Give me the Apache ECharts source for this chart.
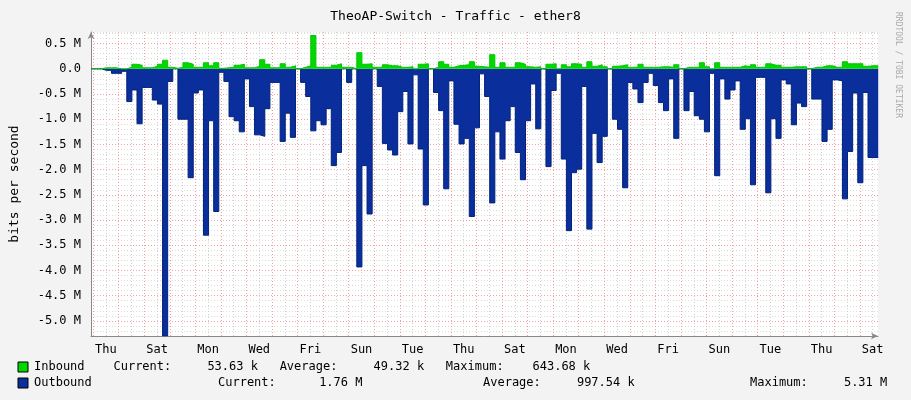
<!DOCTYPE html>
<html><head><meta charset="utf-8">
<script src="https://cdn.jsdelivr.net/npm/echarts@6/dist/echarts.min.js"></script>
<style>html,body{margin:0;padding:0;background:#F3F3F3}#c{width:911px;height:400px}</style>
</head><body><div id="c"></div>
<script>
// hours per consolidated step, starting at Wed 22:00 (x=0)
const stepHours = 4.8;
const dayNames = ['Thu','Fri','Sat','Sun','Mon','Tue','Wed'];
const inbound = [0,0,0,0.02,0.02,0.02,0,0,0.03,0.09,0.07,0.02,0.02,0.05,0.09,0.17,0.03,0.01,0.03,0.12,0.09,0.03,0.03,0.12,0.06,0.12,0.01,0.02,0.03,0.07,0.09,0.02,0.02,0.05,0.18,0.09,0.02,0.02,
 0.1,0.03,0.06,0,0.03,0.06,0.66,0.03,0.03,0.03,0.07,0.1,0.03,0.03,0,0.32,0.09,0.1,0.03,0.03,0.08,0.06,0.06,0.03,0.03,0.04,0,0.09,0.1,0,0.03,0.14,0.09,0.03,0.06,0.07,0.08,0.14,0.05,
 0.04,0.03,0.28,0.03,0.12,0.03,0.03,0.12,0.09,0.04,0.03,0.04,0,0.09,0.1,0,0.08,0.04,0.1,0.09,0.03,0.14,0.05,0.08,0.04,0,0.05,0.06,0.08,0.03,0.03,0.09,0.03,0.03,0.03,0.04,0.04,0.03,
 0.08,0,0.03,0.03,0.03,0.12,0.04,0,0.12,0.03,0.03,0.03,0.03,0.06,0.04,0.08,0.03,0.03,0.1,0.07,0.07,0.03,0.03,0.04,0.04,0.04,0,0.03,0.03,0.06,0.06,0.03,0.03,0.14,0.1,0.1,0.1,0.05,0.06];
const outbound = [0,0,0,-0.03,-0.03,-0.09,-0.09,-0.05,-0.65,-0.42,-1.09,-0.37,-0.37,-0.62,-0.70,-5.3,-0.25,0,-1.0,-1.0,-2.16,-0.48,-0.42,-3.3,-1.03,-2.83,-0.07,-0.25,-0.95,-1.03,-1.25,-0.2,-0.75,-1.31,-1.34,-0.79,-0.27,-0.27,
 -1.44,-0.88,-1.36,0,-0.27,-0.55,-1.23,-1.03,-1.11,-0.79,-1.92,-1.66,0,-0.27,0,-3.93,-1.92,-2.88,0,-0.35,-1.48,-1.61,-1.71,-0.85,-0.45,-1.49,-0.12,-1.59,-2.7,0,-0.47,-0.83,-2.38,-0.24,-1.1,-1.49,-1.38,-2.93,-1.17,
 -0.1,-0.55,-2.66,-1.25,-1.79,-1.03,-0.75,-1.66,-2.2,-1.03,-0.3,-1.19,0,-1.94,-0.43,-0.09,-1.79,-3.21,-2.06,-1.99,-0.35,-3.18,-1.28,-1.86,-1.34,0,-1.0,-1.2,-2.36,-0.27,-0.4,-0.67,-0.27,-0.09,-0.33,-0.67,-0.83,-0.2,
 -1.38,0,-0.83,-0.45,-0.93,-1.0,-1.25,-0.09,-2.12,-0.2,-0.6,-0.42,-0.24,-1.2,-0.99,-2.3,-0.17,-0.17,-2.46,-0.99,-1.38,-0.22,-0.3,-1.11,-0.68,-0.75,0,-0.6,-0.6,-1.44,-1.2,-0.22,-0.24,-2.58,-1.64,-0.48,-2.26,-0.47,-1.76];
const yTicks = [0.5,0,-0.5,-1,-1.5,-2,-2.5,-3,-3.5,-4,-4.5,-5];

function pts(arr){const p=arr.map((v,i)=>[i*stepHours,v]);p.push([arr.length*stepHours,arr[arr.length-1]]);return p;}
const mono='DejaVu Sans Mono';
const chart=echarts.init(document.getElementById('c'));
const xColors=[];for(let i=0;i<12;i++)xColors.push(i===1?'#F5A0A0':(i===7?'#CFCFCF':'rgba(0,0,0,0)'));
const yColors=['#DDDDDD','#DDDDDD','#DDDDDD','#F5A0A0','#DDDDDD'];
chart.setOption({
 animation:false,
 backgroundColor:'#F3F3F3',
 title:{text:'TheoAP-Switch - Traffic - ether8',left:'center',top:5,textStyle:{fontFamily:mono,fontSize:13,fontWeight:'normal',color:'#000'}},
 grid:{left:84,right:33,top:32,bottom:64,backgroundColor:'#fff',show:true,borderWidth:0},
 xAxis:{type:'value',min:0,max:739,interval:2,
  axisLine:{onZero:false,lineStyle:{color:'#888'},symbol:['none','arrow'],symbolSize:[5,7]},
  axisTick:{show:false},
  splitLine:{show:true,lineStyle:{color:xColors,type:[1,2],width:1}},
  axisLabel:{interval:0,fontFamily:mono,fontSize:12,color:'#000',margin:8,showMinLabel:true,showMaxLabel:false,
   formatter:v=>{const h=v-2; if(((h%24)+24)%24!==12) return ''; const d=Math.floor(h/24); return d%2===0?dayNames[d%7]:'';}}},
 yAxis:{type:'value',min:-5.3,max:0.73,interval:0.1,
  name:'bits per second',nameLocation:'middle',nameGap:70,nameTextStyle:{fontFamily:mono,fontSize:13,color:'#000'},
  axisLine:{show:true,lineStyle:{color:'#888'},symbol:['none','arrow'],symbolSize:[5,7]},
  axisTick:{show:false},
  splitLine:{show:true,lineStyle:{color:yColors,type:[1,2],width:1}},
  axisLabel:{fontFamily:mono,fontSize:12,color:'#000',margin:10,
   formatter:v=>{const r=Math.round(v*10);if(r%5!==0||r>5)return '';const t=yTicks.find(x=>Math.round(x*10)===r);if(t===undefined)return '';return t===0?'0.0':t.toFixed(1)+' M';}}},
 series:[
  {type:'line',step:'start',data:pts(outbound),symbol:'none',lineStyle:{color:'#00237A',width:1},areaStyle:{color:'#0A2F9C',opacity:1},z:2},
  {type:'line',step:'start',data:pts(inbound),symbol:'none',lineStyle:{color:'#00C800',width:1},areaStyle:{color:'#00D800',opacity:1},z:3}
 ],
 graphic:[
  {type:'text',left:894,top:12,rotation:-Math.PI/2,style:{text:'RRDTOOL / TOBI OETIKER',font:'8px '+mono,fill:'#AAAAAA'}},
  {type:'rect',shape:{x:18,y:362,width:10,height:10},style:{fill:'#00D800',stroke:'#000',lineWidth:1}},
  {type:'rect',shape:{x:18,y:378,width:10,height:10},style:{fill:'#0A2F9C',stroke:'#000',lineWidth:1}},
  {type:'text',x:34,y:361,style:{text:'Inbound    Current:     53.63 k   Average:     49.32 k   Maximum:    643.68 k',font:'12px '+mono,fill:'#000'}},
  {type:'text',x:34,y:377,style:{text:'Outbound',font:'12px '+mono,fill:'#000'}},
  {type:'text',x:218,y:377,style:{text:'Current:      1.76 M',font:'12px '+mono,fill:'#000'}},
  {type:'text',x:483,y:377,style:{text:'Average:     997.54 k',font:'12px '+mono,fill:'#000'}},
  {type:'text',x:750,y:377,style:{text:'Maximum:     5.31 M',font:'12px '+mono,fill:'#000'}}
 ]
});
</script></body></html>
